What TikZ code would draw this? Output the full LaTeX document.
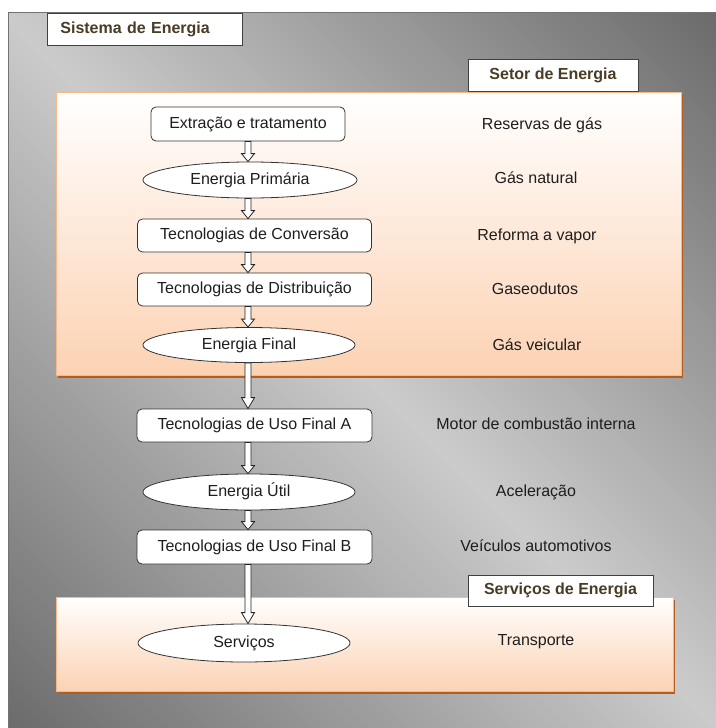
\documentclass[tikz,border=0pt]{standalone}
\usepackage{fontspec}
\setmainfont{Liberation Sans}
\usetikzlibrary{calc,shapes.geometric}

\definecolor{gdark}{HTML}{676767}
\definecolor{glight}{HTML}{CBCBCB}
\definecolor{peach}{HTML}{FCD2B3}
\definecolor{panelline}{HTML}{F8B98A}
\definecolor{panelshadow}{HTML}{B55D1E}
\definecolor{titletext}{HTML}{4A3C24}
\definecolor{inktext}{HTML}{1E1E1E}

% diagonal grey backdrop: dark at two opposite corners, light along the other diagonal
\pgfdeclarehorizontalshading{bgshade}{100bp}{color(0bp)=(gdark); color(13bp)=(gdark);
  color(50bp)=(glight); color(87bp)=(gdark); color(100bp)=(gdark)}

% hollow block arrow between two nodes, on the common vertical axis
\newcommand\flowarrow[3]{%
  \path[flow] let \p1=(#1.south), \p2=(#2.north), \p3=(axis) in
    (\x3-3pt,\y1) -- (\x3-3pt,\y2+#3) -- (\x3-6.5pt,\y2+#3) -- (\x3,\y2)
    -- (\x3+6.5pt,\y2+#3) -- (\x3+3pt,\y2+#3) -- (\x3+3pt,\y1) -- cycle;}

\begin{document}
\begin{tikzpicture}[x=1pt,y=-1pt,
  every node/.style={font=\fontsize{16}{18}\selectfont, text=inktext, inner sep=0pt,
    text height=11.5pt, text depth=3.4pt},
  procbox/.style={draw=black!80, line width=0.8pt, fill=white, rounded corners=5pt,
    minimum width=235pt, minimum height=33pt},
  statebox/.style={ellipse, draw=black!80, line width=0.8pt, fill=white,
    minimum width=212pt, minimum height=36pt},
  sidelabel/.style={},
  titlebox/.style={draw=black!75, line width=0.8pt, fill=white, minimum height=32pt,
    font=\fontsize{16}{18}\selectfont\bfseries, text=titletext},
  panel/.style={top color=white, bottom color=peach, draw=panelline, line width=1pt},
  flow/.style={draw=black!85, line width=0.8pt, fill=white, line join=miter}
]
\useasboundingbox (0,0) rectangle (715,728);

% backdrop
\shade[shading=bgshade, shading angle=45] (8,12) rectangle (716,729);
\draw[black!55, line width=0.7pt] (716,12) -- (8,12) -- (8,729);

% energy sector panel
\fill[panelshadow] (58,94.5) rectangle (683,378);
\draw[panel] (56,92) rectangle (681,375.5);

% energy services panel
\fill[panelshadow] (58,599.5) rectangle (675,694);
\draw[panel] (56,597) rectangle (673,691.5);

% titles
\node[titlebox, anchor=north west, text width=169pt, inner xsep=13pt, align=left] (sys) at (47,13) {Sistema de Energia};
\node[titlebox, minimum width=170pt] (setor) at (553,75) {Setor de Energia};
\node[titlebox, minimum width=185pt, minimum height=31pt] (servtitle) at (560.5,590.5) {Serviços de Energia};

% chain of technologies and energy forms
\coordinate (axis) at (248,0);
\node[procbox, minimum width=194pt, minimum height=34pt] (ext) at (248,124) {Extração e tratamento};
\node[statebox, minimum width=214pt] (pri) at (250,180) {Energia Primária};
\node[procbox, minimum width=234pt] (conv) at (254.5,235.5) {Tecnologias de Conversão};
\node[procbox, minimum width=234pt] (dist) at (254.5,289.5) {Tecnologias de Distribuição};
\node[statebox, minimum height=35pt] (fin) at (249,345) {Energia Final};
\node[procbox] (usoA) at (254.5,425.5) {Tecnologias de Uso Final A};
\node[statebox] (util) at (249,492) {Energia Útil};
\node[procbox, minimum height=34pt] (usoB) at (254.5,547) {Tecnologias de Uso Final B};
\node[statebox, minimum height=38pt] (serv) at (244,643) {Serviços};

\flowarrow{ext}{pri}{8pt}
\flowarrow{pri}{conv}{8pt}
\flowarrow{conv}{dist}{8pt}
\flowarrow{dist}{fin}{8pt}
\flowarrow{fin}{usoA}{11pt}
\flowarrow{usoA}{util}{8pt}
\flowarrow{util}{usoB}{8pt}
\flowarrow{usoB}{serv}{11pt}

% examples for the natural gas chain
\node[sidelabel] (l1) at (542,125) {Reservas de gás};
\node[sidelabel] (l2) at (536,179) {Gás natural};
\node[sidelabel] (l3) at (537,236) {Reforma a vapor};
\node[sidelabel] (l4) at (535,290) {Gaseodutos};
\node[sidelabel] (l5) at (537,346) {Gás veicular};
\node[sidelabel] (l6) at (536,425) {Motor de combustão interna};
\node[sidelabel] (l7) at (536,492) {Aceleração};
\node[sidelabel] (l8) at (536,547) {Veículos automotivos};
\node[sidelabel] (l9) at (536,641) {Transporte};
\end{tikzpicture}
\end{document}
